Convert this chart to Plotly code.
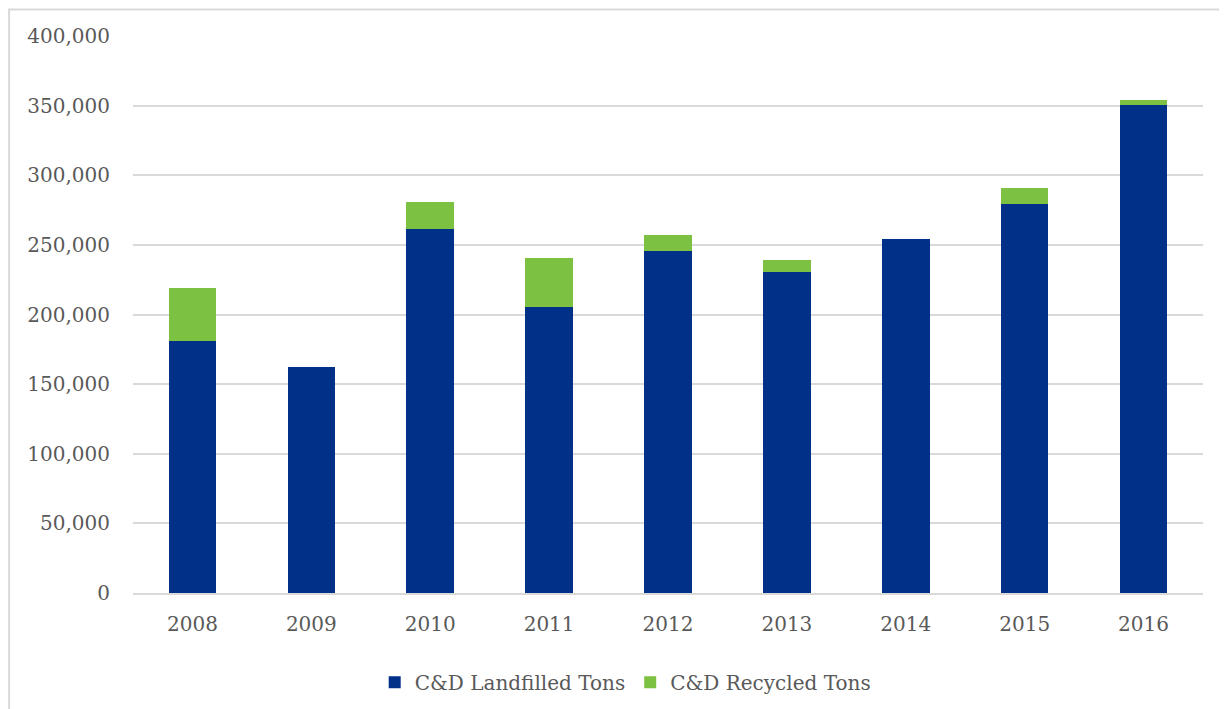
import plotly.graph_objects as go

years = ["2008", "2009", "2010", "2011", "2012", "2013", "2014", "2015", "2016"]
landfilled_tons = [181000, 162300, 261400, 205400, 245600, 230500, 254200, 279400, 350400]
recycled_tons = [38000, 0, 19400, 35200, 11500, 8600, 0, 11400, 3600]

font_family = "DejaVu Serif"
text_grey = "#595959"
grid_grey = "#D9D9D9"

fig = go.Figure()
fig.add_trace(go.Bar(
    x=years, y=landfilled_tons, name="C&D Landfilled Tons",
    marker=dict(color="#003087", line=dict(width=0)),
))
fig.add_trace(go.Bar(
    x=years, y=recycled_tons, name="C&D Recycled Tons",
    marker=dict(color="#7DC142", line=dict(width=0)),
))

# the page body adds an 8px offset, margins account for it
fig.update_layout(
    barmode="stack",
    bargap=0.6,
    width=1227, height=709,
    margin=dict(l=125, r=32, t=28, b=124),
    paper_bgcolor="white",
    plot_bgcolor="white",
    font=dict(family=font_family, size=20, color=text_grey),
    showlegend=True,
    legend=dict(
        orientation="h", x=0.46, xanchor="center", y=-0.125, yanchor="top",
        font=dict(size=20, color=text_grey),
        itemwidth=30, traceorder="normal",
    ),
    xaxis=dict(
        showgrid=False, showline=True, linecolor=grid_grey, linewidth=2,
        ticks="", ticklabelstandoff=12, tickfont=dict(size=20, color=text_grey),
    ),
    yaxis=dict(
        range=[0, 400000], tickvals=[0, 50000, 100000, 150000, 200000, 250000, 300000, 350000, 400000],
        tickformat=",d", showgrid=True, gridcolor=grid_grey, gridwidth=2,
        zeroline=False, ticks="", ticklabelstandoff=22,
        tickfont=dict(size=20, color=text_grey),
    ),
    # chart frame (top and left edges visible)
    shapes=[dict(
        type="rect", xref="paper", yref="paper",
        x0=-0.1158, x1=1.05, y0=-0.3, y1=1.0475,
        line=dict(color=grid_grey, width=2), fillcolor="rgba(0,0,0,0)", layer="below",
    )],
)

fig.write_html("out.html")
